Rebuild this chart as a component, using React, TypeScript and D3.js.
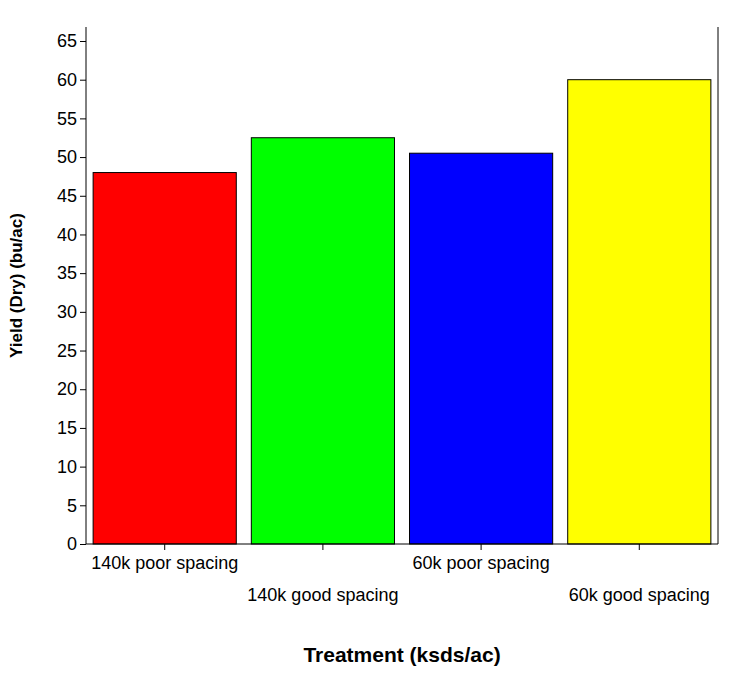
import { useEffect, useRef } from "react";
import * as d3 from "d3";

const categories = ["140k poor spacing", "140k good spacing", "60k poor spacing", "60k good spacing"];
const yields = [48, 52.5, 50.5, 60];
const barColors = ["#ff0000", "#00ff00", "#0000ff", "#ffff00"];
const yTicks = d3.range(0, 66, 5);

const App = () => {
  const ref = useRef<SVGSVGElement | null>(null);

  useEffect(() => {
    const width = 751;
    const height = 681;
    const margin = { top: 27, right: 33, bottom: 137, left: 86 };
    const font = "'Liberation Sans', Arial, sans-serif";

    const svg = d3.select(ref.current);
    svg.selectAll("*").remove();

    const x = d3
      .scaleBand()
      .domain(categories)
      .range([margin.left, width - margin.right])
      .paddingInner(0.095)
      .paddingOuter(0.045);

    const y = d3
      .scaleLinear()
      .domain([0, 65])
      .range([height - margin.bottom, 41]);

    const y0 = y(0);

    svg
      .append("g")
      .selectAll("rect")
      .data(yields)
      .join("rect")
      .attr("x", (_, i) => x(categories[i])!)
      .attr("y", (d) => y(d))
      .attr("width", x.bandwidth())
      .attr("height", (d) => y0 - y(d))
      .attr("fill", (_, i) => barColors[i])
      .attr("stroke", "#000")
      .attr("stroke-width", 1);

    const yAxis = svg
      .append("g")
      .attr("transform", `translate(${margin.left},0)`)
      .call(d3.axisLeft(y).tickValues(yTicks).tickSize(6).tickSizeOuter(0));
    yAxis.select(".domain").attr("d", `M0,${y0}V${margin.top}`);
    yAxis.selectAll("text").attr("font-size", 18).attr("font-family", font).attr("fill", "#000");

    const xAxis = svg
      .append("g")
      .attr("transform", `translate(0,${y0})`)
      .call(d3.axisBottom(x).tickSize(6).tickSizeOuter(0));
    xAxis.select(".domain").attr("d", `M${margin.left},0H${width - margin.right}`);
    xAxis
      .selectAll("text")
      .attr("font-size", 18)
      .attr("font-family", font)
      .attr("fill", "#000")
      .attr("dy", (_, i) => (i % 2 === 0 ? "0.71em" : "2.5em"))
      .attr("y", 12);

    svg
      .append("line")
      .attr("x1", width - margin.right)
      .attr("x2", width - margin.right)
      .attr("y1", y0)
      .attr("y2", margin.top)
      .attr("stroke", "#000");

    svg
      .append("text")
      .attr("x", (margin.left + width - margin.right) / 2)
      .attr("y", 662)
      .attr("text-anchor", "middle")
      .attr("font-family", font)
      .attr("font-weight", "bold")
      .attr("font-size", 21)
      .text("Treatment (ksds/ac)");

    svg
      .append("text")
      .attr("transform", `translate(22,${(margin.top + y0) / 2}) rotate(-90)`)
      .attr("text-anchor", "middle")
      .attr("font-family", font)
      .attr("font-weight", "bold")
      .attr("font-size", 17)
      .text("Yield (Dry) (bu/ac)");
  }, []);

  return <svg ref={ref} width={751} height={681} style={{ display: "block", margin: -8 }}></svg>;
};

export default App;
